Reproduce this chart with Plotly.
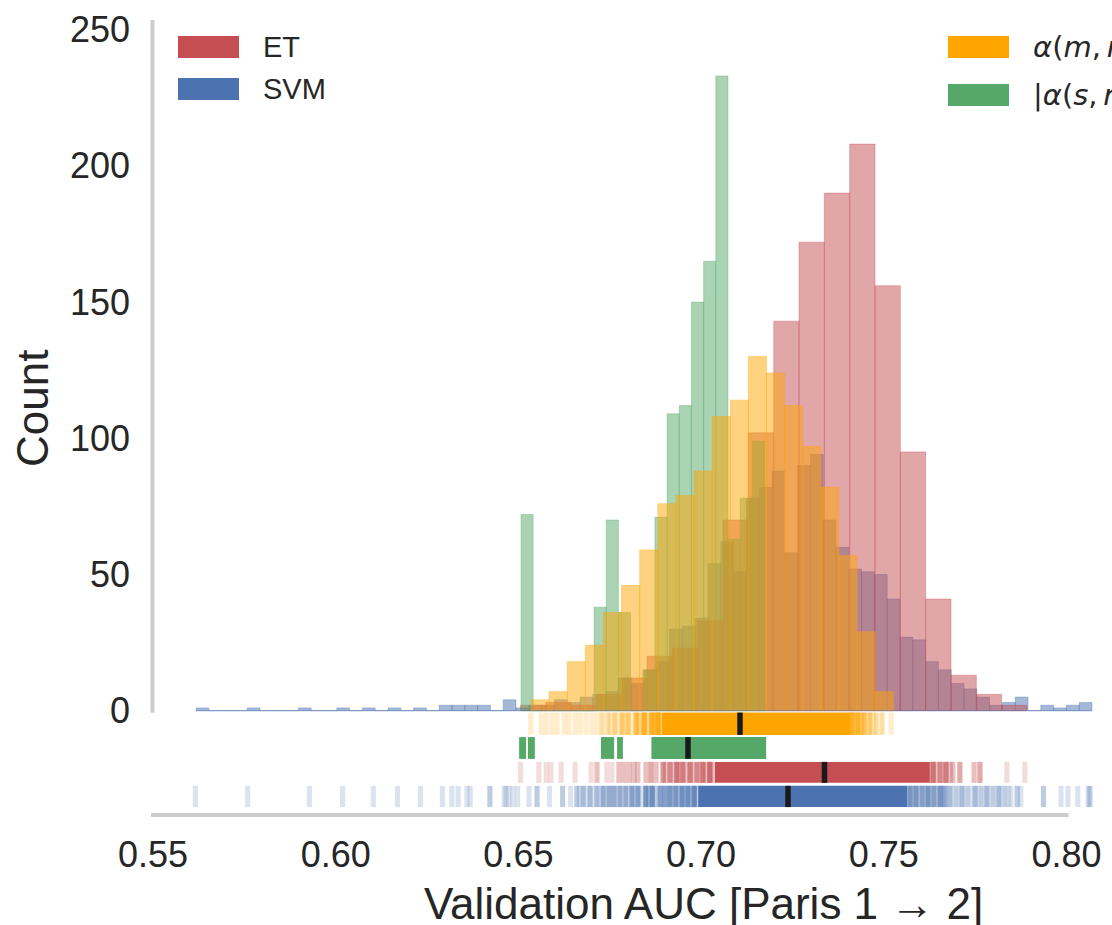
import numpy as np
import plotly.graph_objects as go

# ---------------- data ----------------
# Histograms: equal-width bins spanning (lo, hi), counts per bin
SVM_RANGE = (0.56177, 0.80698)
SVM_COUNTS = [1, 0, 0, 0, 1, 0, 0, 0, 1, 0, 0, 1, 0, 1, 0, 1, 0, 1, 0, 2, 2, 2, 2, 0, 4,
              1, 2, 2, 4, 3, 5, 6, 7, 12, 10, 15, 18, 30, 31, 34, 54, 62, 51, 78, 82, 88,
              58, 90, 94, 70, 60, 52, 51, 50, 41, 27, 26, 18, 15, 10, 8, 5, 2, 3, 5, 0, 2, 1, 2, 3]

ET_RANGE = (0.65055, 0.78919)
ET_COUNTS = [2, 3, 2, 6, 12, 20, 23, 33, 70, 102, 143, 172, 190, 208, 156, 95, 41, 13, 6, 2]

ALPHA_M_RANGE = (0.65345, 0.75260)
ALPHA_M_COUNTS = [4, 7, 18, 24, 36, 46, 59, 76, 79, 88, 108, 114, 130, 124, 112, 97, 82, 57, 29, 7]

ALPHA_S_RANGE = (0.65071, 0.71735)
ALPHA_S_COUNTS = [72, 0, 0, 0, 0, 0, 38, 70, 36, 0, 15, 71, 109, 112, 150, 165, 233, 63, 78, 99]

# Rug strips: sample positions (value, multiplicity) plus densely covered
# ranges (lo, hi, overlapping depth)
ALPHA_M_RUG_VALUES = [0.6534, 0.6562, 0.6576, 0.6592, 0.6606, 0.6625, 0.6638, 0.6655, 0.6669,
                      0.6685, 0.6701, 0.6715, 0.6729, 0.6745, 0.6764, 0.6784, 0.6800, 0.6822,
                      0.6844, 0.6866, 0.6882, 0.7413, 0.7429, 0.7446, 0.7462, 0.7479, 0.7495, 0.7520]
ALPHA_M_RUG_COUNTS = [1, 1, 1, 1, 1, 1, 1, 1, 1, 1, 1, 1, 2, 2, 2, 3, 3, 4, 5, 6, 8,
                      6, 5, 4, 3, 2, 2, 1]
ALPHA_M_RUG_SPANS = [(0.6745, 0.6822, 1), (0.6822, 0.6893, 3), (0.6893, 0.7408, 30),
                     (0.7408, 0.7446, 3), (0.7446, 0.7479, 1)]
ALPHA_M_MEAN = 0.71065

ALPHA_S_RUG_SPANS = [(0.6502, 0.6521, 30), (0.6526, 0.6545, 30), (0.6726, 0.6762, 30),
                     (0.6770, 0.6786, 30), (0.6864, 0.7178, 30)]
ALPHA_S_MEAN = 0.69641

ET_RUG_VALUES = [0.6506, 0.6556, 0.6576, 0.6589, 0.6617, 0.6655, 0.6699, 0.6715, 0.6742,
                 0.6756, 0.6775, 0.6789, 0.6803, 0.6816, 0.6827, 0.6849, 0.6863, 0.6877,
                 0.6896, 0.6915, 0.6934, 0.6950, 0.6970, 0.6989, 0.7005, 0.7024,
                 0.7635, 0.7654, 0.7670, 0.7689, 0.7708, 0.7747, 0.7763, 0.7837, 0.7886]
ET_RUG_COUNTS = [1, 1, 1, 1, 1, 1, 1, 2, 1, 1, 2, 2, 2, 2, 2, 2, 3, 2, 4, 3, 5, 4, 4, 3, 5, 6,
                 5, 3, 4, 2, 3, 2, 3, 1, 1]
ET_RUG_SPANS = [(0.6896, 0.7038, 2), (0.7038, 0.7626, 30), (0.7626, 0.7689, 2)]
ET_MEAN = 0.73376

SVM_RUG_VALUES = [0.5616, 0.5759, 0.5928, 0.6019, 0.6103, 0.6169, 0.6232, 0.6292, 0.6318,
                  0.6335, 0.6359, 0.6368, 0.6422, 0.6461, 0.6466, 0.6474, 0.6485, 0.6498,
                  0.6529, 0.6551, 0.6585, 0.6621, 0.6643, 0.6660, 0.6677, 0.6696, 0.6715,
                  0.6732, 0.6748, 0.6762, 0.6778, 0.6794, 0.6811, 0.6827, 0.6849, 0.6866,
                  0.6888, 0.6901, 0.6915, 0.6931, 0.6948, 0.6964, 0.6981,
                  0.7572, 0.7588, 0.7605, 0.7621, 0.7637, 0.7654, 0.7667, 0.7681, 0.7698,
                  0.7714, 0.7730, 0.7750, 0.7766, 0.7782, 0.7799, 0.7815, 0.7832, 0.7848,
                  0.7865, 0.7875, 0.7937, 0.7985, 0.8004, 0.8031, 0.8059, 0.8064]
SVM_RUG_COUNTS = [1, 1, 1, 1, 1, 1, 1, 1, 1, 1, 1, 1, 2, 1, 1, 1, 1, 1,
                  1, 2, 1, 2, 1, 2, 2, 2, 2, 3, 3, 3, 3, 3, 4, 4, 5, 5,
                  3, 3, 4, 4, 5, 5, 6,
                  4, 4, 3, 4, 3, 4, 3, 2, 1, 2, 1, 2, 1, 2, 1, 2, 1, 1,
                  2, 1, 2, 1, 1, 1, 1, 2]
SVM_RUG_SPANS = [(0.6660, 0.6849, 1), (0.6849, 0.6992, 2), (0.6992, 0.7564, 30),
                 (0.7564, 0.7667, 2), (0.7667, 0.7848, 1)]
SVM_MEAN = 0.72378

X_TICKS = [0.55, 0.60, 0.65, 0.70, 0.75, 0.80]
Y_TICKS = [0, 50, 100, 150, 200, 250]

# ---------------- styling ----------------
C_ET = (196, 78, 82)
C_SVM = (76, 114, 176)
C_AM = (255, 165, 0)
C_AS = (85, 168, 104)
TEXT = "#262626"
SPINE = "#cccccc"
SANS = "Liberation Sans, Arial, sans-serif"
MATH = "DejaVu Sans, sans-serif"

W, H = 1112, 925
PLOT_L, PLOT_R, PLOT_T, PLOT_B = 152, 1112, 20, 815
X_RANGE = [0.549726, 0.812452]
Y_RANGE = [-38.3, -38.3 + (PLOT_B - PLOT_T) / 2.724]

# rug bands (in count units, below zero)
BAND_AM = (-8.9, -0.7)
BAND_AS = (-17.7, -9.7)
BAND_ET = (-26.5, -18.8)
BAND_SVM = (-35.4, -27.6)
RUG_ALPHA = 0.2
RUG_W = 0.0014
MEAN_W = 0.0015


def rgba(c, a):
    return f"rgba({c[0]},{c[1]},{c[2]},{a:.3f})"


def px(p):
    return (p - PLOT_L) / (PLOT_R - PLOT_L)


def py(p):
    return (PLOT_B - p) / (PLOT_B - PLOT_T)


def x_to_paper(v):
    return (v - X_RANGE[0]) / (X_RANGE[1] - X_RANGE[0])


def y_to_paper(v):
    return (v - Y_RANGE[0]) / (Y_RANGE[1] - Y_RANGE[0])


fig = go.Figure()


def add_hist(rng, counts, color):
    lo, hi = rng
    n = len(counts)
    w = (hi - lo) / n
    centers = lo + w * (np.arange(n) + 0.5)
    fig.add_trace(go.Bar(
        x=centers, y=counts, width=w,
        marker=dict(color=rgba(color, 0.5), line=dict(color=rgba(color, 0.35), width=1)),
        showlegend=False, hoverinfo="skip"))


def add_rug(values, counts, spans, color, band, mean):
    lo, hi = band
    if spans:
        sx = [(a + b) / 2 for a, b, _ in spans]
        sw = [b - a for a, b, _ in spans]
        sc = [rgba(color, 1 - (1 - RUG_ALPHA) ** d) for _, _, d in spans]
        fig.add_trace(go.Bar(
            x=sx, y=[hi - lo] * len(sx), base=lo, width=sw,
            marker=dict(color=sc, line=dict(width=0)),
            showlegend=False, hoverinfo="skip"))
    if values:
        xs = np.repeat(np.asarray(values), counts)
        fig.add_trace(go.Bar(
            x=xs, y=[hi - lo] * len(xs), base=lo, width=RUG_W,
            marker=dict(color=rgba(color, RUG_ALPHA), line=dict(width=0)),
            showlegend=False, hoverinfo="skip"))
    fig.add_trace(go.Bar(
        x=[mean], y=[hi - lo], base=lo, width=MEAN_W,
        marker=dict(color="#1a1a1a", line=dict(width=0)),
        showlegend=False, hoverinfo="skip"))


# empty SVM bins still show their outline along the baseline
fig.add_trace(go.Scatter(x=list(SVM_RANGE), y=[0, 0], mode="lines",
                         line=dict(color=rgba(C_SVM, 0.5), width=1),
                         showlegend=False, hoverinfo="skip"))

add_hist(SVM_RANGE, SVM_COUNTS, C_SVM)
add_hist(ET_RANGE, ET_COUNTS, C_ET)
add_hist(ALPHA_S_RANGE, ALPHA_S_COUNTS, C_AS)
add_hist(ALPHA_M_RANGE, ALPHA_M_COUNTS, C_AM)

add_rug(ALPHA_M_RUG_VALUES, ALPHA_M_RUG_COUNTS, ALPHA_M_RUG_SPANS, C_AM, BAND_AM, ALPHA_M_MEAN)
add_rug([], [], ALPHA_S_RUG_SPANS, C_AS, BAND_AS, ALPHA_S_MEAN)
add_rug(ET_RUG_VALUES, ET_RUG_COUNTS, ET_RUG_SPANS, C_ET, BAND_ET, ET_MEAN)
add_rug(SVM_RUG_VALUES, SVM_RUG_COUNTS, SVM_RUG_SPANS, C_SVM, BAND_SVM, SVM_MEAN)

# spines: bottom one trimmed to the outer ticks, left one from zero to the top
shapes = [
    dict(type="line", xref="paper", yref="paper",
         x0=x_to_paper(X_TICKS[0]) - 2 / (PLOT_R - PLOT_L),
         x1=x_to_paper(X_TICKS[-1]) + 2 / (PLOT_R - PLOT_L),
         y0=0, y1=0, line=dict(color=SPINE, width=4), layer="above"),
    dict(type="line", xref="paper", yref="paper", x0=px(152.5), x1=px(152.5),
         y0=y_to_paper(Y_TICKS[0]) - 2 / (PLOT_B - PLOT_T), y1=1,
         line=dict(color=SPINE, width=4), layer="above"),
]

annotations = []

# legend: two columns of colour patches with labels
legend_items = [
    ("ET", C_ET, 178, 47, SANS),
    ("SVM", C_SVM, 178, 89, SANS),
    ("<i>α</i>(<i>m</i>,\u2009<i>r</i>)", C_AM, 948, 47, MATH),
    ("|<i>α</i>(<i>s</i>,\u2009<i>r</i>)|", C_AS, 948, 95, MATH),
]
for label, col, lx, ly, fam in legend_items:
    shapes.append(dict(type="rect", xref="paper", yref="paper",
                       x0=px(lx), x1=px(lx + 61), y0=py(ly + 11), y1=py(ly - 11),
                       fillcolor=rgba(col, 1), line=dict(width=0)))
    annotations.append(dict(text=label, xref="paper", yref="paper", x=px(lx + 83), y=py(ly),
                            xanchor="left", yanchor="middle", showarrow=False,
                            font=dict(family=fam, size=29, color=TEXT)))

# axis titles
annotations.append(dict(text="Validation AUC [Paris 1 → 2]", xref="paper", yref="paper",
                        x=px(703), y=py(903), xanchor="center", yanchor="middle", showarrow=False,
                        font=dict(family=SANS, size=44, color=TEXT)))
annotations.append(dict(text="Count", xref="paper", yref="paper", textangle=-90,
                        x=px(32), y=py(409), xanchor="center", yanchor="middle", showarrow=False,
                        font=dict(family=SANS, size=44, color=TEXT)))

fig.update_layout(
    width=W, height=H,
    margin=dict(l=PLOT_L, r=W - PLOT_R, t=PLOT_T, b=H - PLOT_B, pad=0),
    paper_bgcolor="white", plot_bgcolor="white",
    barmode="overlay", showlegend=False,
    shapes=shapes, annotations=annotations,
    font=dict(family=SANS, color=TEXT),
    xaxis=dict(range=X_RANGE, tickvals=X_TICKS, ticktext=[f"{v:.2f}" for v in X_TICKS],
               showgrid=False, zeroline=False, showline=False, ticks="",
               tickfont=dict(size=36, color=TEXT), ticklabelstandoff=15),
    yaxis=dict(range=Y_RANGE, tickvals=Y_TICKS, ticktext=[str(v) for v in Y_TICKS],
               showgrid=False, zeroline=False, showline=False, ticks="",
               tickfont=dict(size=36, color=TEXT), ticklabelstandoff=21),
)

fig.write_html("out.html")
